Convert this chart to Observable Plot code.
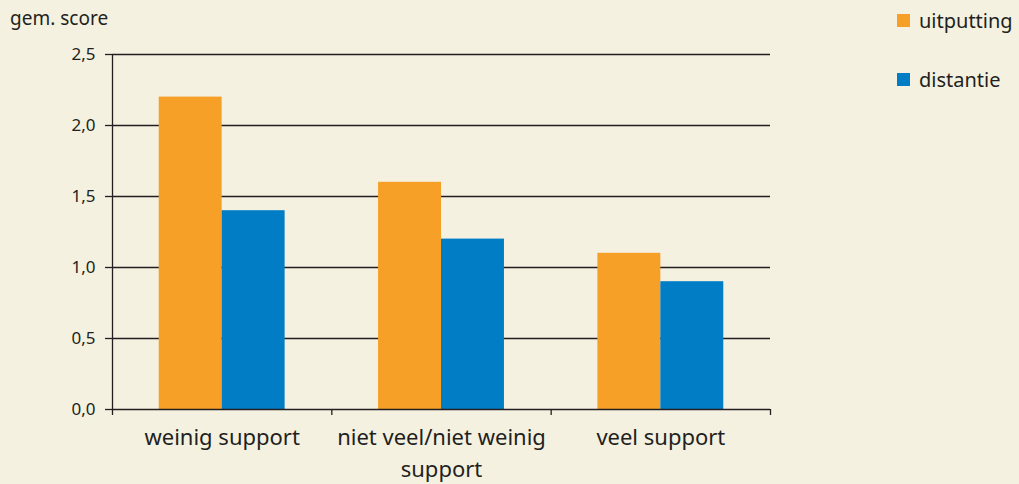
<!DOCTYPE html>
<html>
<head>
<meta charset="utf-8">
<script src="https://cdn.jsdelivr.net/npm/d3@7"></script>
<script src="https://cdn.jsdelivr.net/npm/@observablehq/plot@0.6"></script>
<style>
  html, body { margin: 0; padding: 0; background: #F4F1E1; }
  #wrap { position: relative; width: 1019px; height: 484px; background: #F4F1E1; font-family: "Noto Sans", sans-serif; color: #231f20; overflow: hidden; }
  #ylabel { position: absolute; left: 10px; top: 5px; font-size: 19px; }
  .leg { position: absolute; left: 897px; font-size: 20px; display: flex; align-items: center; }
  .sw { width: 13px; height: 13px; margin-right: 9px; }
  #chart { position: absolute; left: 0; top: 0; }
</style>
</head>
<body>
<div id="wrap">
  <div id="chart"></div>
  <div id="ylabel">gem. score</div>
  <div id="legend"></div>
</div>
<script>
const categories = ["weinig support", "niet veel/niet weinig\nsupport", "veel support"];
const series = ["uitputting", "distantie"];
const uitputting = [2.2, 1.6, 1.1];
const distantie = [1.4, 1.2, 0.9];
const yTicks = [0, 0.5, 1.0, 1.5, 2.0, 2.5];
const colors = ["#F7A027", "#007DC5"];

const barFrac = 0.287; // bar width as share of a group
const rows = [];
categories.forEach((c, i) => {
  rows.push({cat: c, i, series: series[0], value: uitputting[i], x1: i + 0.5 - barFrac, x2: i + 0.5});
  rows.push({cat: c, i, series: series[1], value: distantie[i], x1: i + 0.5, x2: i + 0.5 + barFrac});
});
const labels = categories.map((c, i) => ({cat: c, x: i + 0.5}));

const fmt = d => d.toFixed(1).replace(".", ",");

const chart = Plot.plot({
  width: 1019,
  height: 484,
  marginLeft: 112,
  marginRight: 249,
  marginTop: 54,
  marginBottom: 75,
  style: {background: "transparent", fontFamily: "Noto Sans, sans-serif", color: "#231f20"},
  x: {domain: [0, categories.length], axis: null},
  y: {domain: [0, 2.5], axis: null},
  color: {domain: series, range: colors},
  marks: [
    Plot.ruleY(yTicks.filter(d => d > 0), {stroke: "#231f20", strokeWidth: 1.3, x1: 0, x2: categories.length}),
    Plot.rectY(rows, {x1: "x1", x2: "x2", y1: 0, y2: "value", fill: "series"}),
    Plot.ruleX([0], {stroke: "#231f20", strokeWidth: 1.3}),
    Plot.ruleY([0], {stroke: "#231f20", strokeWidth: 1.3, x1: 0, x2: categories.length}),
    Plot.axisY({ticks: yTicks, tickFormat: () => "", tickSize: 7, stroke: "#231f20", strokeWidth: 1.3, label: null}),
    Plot.text(yTicks, {y: d => d, text: fmt, frameAnchor: "left", textAnchor: "end", dx: -17, fontSize: 17, fill: "#231f20"}),
    Plot.axisX({ticks: d3.range(categories.length + 1), tickFormat: () => "", tickSize: 6, stroke: "#231f20", strokeWidth: 1.3, label: null}),
    Plot.text(labels, {x: "x", y: 0, text: "cat", dy: 13, fontSize: 22, lineHeight: 1.45, lineAnchor: "top", fill: "#231f20"})
  ]
});
document.getElementById("chart").appendChild(chart);

const legend = document.getElementById("legend");
series.forEach((s, k) => {
  const d = document.createElement("div");
  d.className = "leg";
  d.style.top = (7 + k * 59) + "px";
  d.innerHTML = `<span class="sw" style="background:${colors[k]}"></span><span>${s}</span>`;
  legend.appendChild(d);
});
</script>
</body>
</html>
